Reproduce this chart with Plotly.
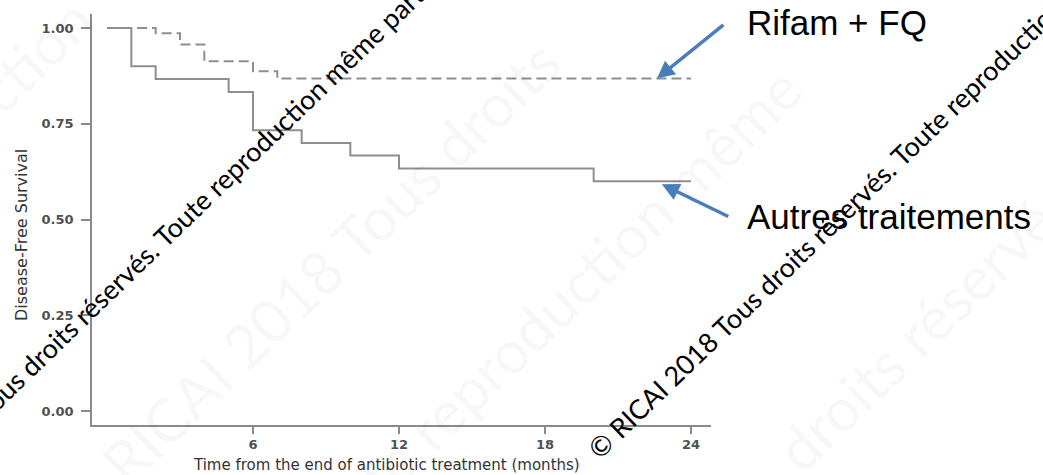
import plotly.graph_objects as go

# ---- data ----
time_autres = [0, 1, 2, 5, 6, 8, 10, 12, 20, 24]
surv_autres = [1.0, 0.900, 0.867, 0.833, 0.733, 0.700, 0.667, 0.633, 0.600, 0.600]

time_rifam = [0, 2, 3, 4, 6, 7, 24]
surv_rifam = [1.0, 0.986, 0.957, 0.913, 0.887, 0.868, 0.868]

x_ticks = [6, 12, 18, 24]
y_ticks = [0.0, 0.25, 0.5, 0.75, 1.0]
y_ticklabels = ["0.00", "0.25", "0.50", "0.75", "1.00"]

label_rifam = "Rifam + FQ"
label_autres = "Autres traitements"
x_title = "Time from the end of antibiotic treatment (months)"
y_title = "Disease-Free Survival"
watermark = "© RICAI 2018 Tous droits réservés. Toute reproduction même partielle interdite"
faint_fragments = ["RICAI 2018 Tous droits", "Toute reproduction même",
                   "droits réservés", "reproduction"]

# ---- layout geometry (pixels) ----
W, H = 1043, 475
L, R, T, B = 92, 332, 14, 50
PW, PH = W - L - R, H - T - B


def px(x):
    return (x - L) / PW


def py(y):
    return (H - B - y) / PH


LINE_COL = "#8e8e8e"
AXIS_COL = "#8a8a8a"
ARROW_COL = "#4a7ebb"

fig = go.Figure()
fig.add_trace(go.Scatter(
    x=time_rifam, y=surv_rifam, mode="lines", line_shape="hv",
    line=dict(color=LINE_COL, width=2, dash="10px,5px"),
    name=label_rifam, hoverinfo="skip"))
fig.add_trace(go.Scatter(
    x=time_autres, y=surv_autres, mode="lines", line_shape="hv",
    line=dict(color=LINE_COL, width=2),
    name=label_autres, hoverinfo="skip"))

annotations = []
# faint background watermarks (large, very light)
faint_centres = [(330, 262), (545, 315), (925, 325), (-41, 127)]
for frag, (xc, yc) in zip(faint_fragments, faint_centres):
    annotations.append(dict(
        text=frag, xref="paper", yref="paper", x=px(xc), y=py(yc),
        xanchor="center", yanchor="middle", showarrow=False, textangle=-44,
        font=dict(family="Lato", size=60, color="rgba(0,0,0,0.03)")))

# black diagonal watermarks
wm1 = (-159, 549)
wm2 = (578, 468)
for (xa, ya) in [wm1, wm2]:
    annotations.append(dict(
        text=watermark, xref="paper", yref="paper", x=px(xa), y=py(ya),
        xanchor="left", yanchor="bottom", showarrow=False, textangle=-44,
        font=dict(family="Lato", size=27, color="#000000")))

# axis titles
annotations.append(dict(
    text=x_title, xref="paper", yref="paper", x=px(386), y=py(465),
    xanchor="center", yanchor="middle", showarrow=False,
    font=dict(family="DejaVu Sans", size=15, color="#333333")))
annotations.append(dict(
    text=y_title, xref="paper", yref="paper", x=px(21), y=py(235),
    xanchor="center", yanchor="middle", showarrow=False, textangle=-90,
    font=dict(family="DejaVu Sans", size=16, color="#333333")))

# arrows to the curves
annotations.append(dict(
    x=time_rifam[-1] - 1.4, y=surv_rifam[-1], xref="x", yref="y",
    ax=68, ay=-55, text="", showarrow=True, arrowhead=2, arrowsize=1,
    arrowwidth=3.5, arrowcolor=ARROW_COL))
annotations.append(dict(
    x=time_autres[-1] - 1.2, y=surv_autres[-1] - 0.008, xref="x", yref="y",
    ax=68, ay=33, text="", showarrow=True, arrowhead=2, arrowsize=1,
    arrowwidth=3.5, arrowcolor=ARROW_COL))

# curve labels
annotations.append(dict(
    text=label_rifam, xref="paper", yref="paper", x=px(745), y=py(23),
    xanchor="left", yanchor="middle", showarrow=False,
    font=dict(family="Liberation Sans", size=35, color="#000000")))
annotations.append(dict(
    text=label_autres, xref="paper", yref="paper", x=px(745), y=py(217),
    xanchor="left", yanchor="middle", showarrow=False,
    font=dict(family="Liberation Sans", size=35, color="#000000")))

x0_px, x_scale = 107.0, (691.0 - 253.0) / 18.0
y0_px, y_scale = 411.0, (411.0 - 28.0)

fig.update_layout(
    width=W, height=H,
    margin=dict(l=L, r=R, t=T, b=B, pad=0),
    paper_bgcolor="white", plot_bgcolor="white",
    showlegend=False,
    annotations=annotations,
    xaxis=dict(
        range=[(L - x0_px) / x_scale, (L + PW - x0_px) / x_scale],
        tickmode="array", tickvals=x_ticks, ticktext=[str(v) for v in x_ticks],
        ticks="outside", ticklen=7, tickwidth=1.5, tickcolor=AXIS_COL,
        showline=True, linecolor=AXIS_COL, linewidth=1.5,
        showgrid=False, zeroline=False, automargin=False,
        tickfont=dict(family="DejaVu Sans", size=13, color="#505050", weight="bold"),
    ),
    yaxis=dict(
        range=[(y0_px - (T + PH)) / y_scale, (y0_px - T) / y_scale],
        tickmode="array", tickvals=y_ticks, ticktext=y_ticklabels,
        ticks="outside", ticklen=9, tickwidth=1.5, tickcolor=AXIS_COL,
        showline=True, linecolor=AXIS_COL, linewidth=1.5,
        showgrid=False, zeroline=False, ticklabelstandoff=5, automargin=False,
        tickfont=dict(family="DejaVu Sans", size=13, color="#505050", weight="bold"),
    ),
)

fig.write_html("out.html", config={"displayModeBar": False},
               post_script="document.body.style.margin='0px';")
